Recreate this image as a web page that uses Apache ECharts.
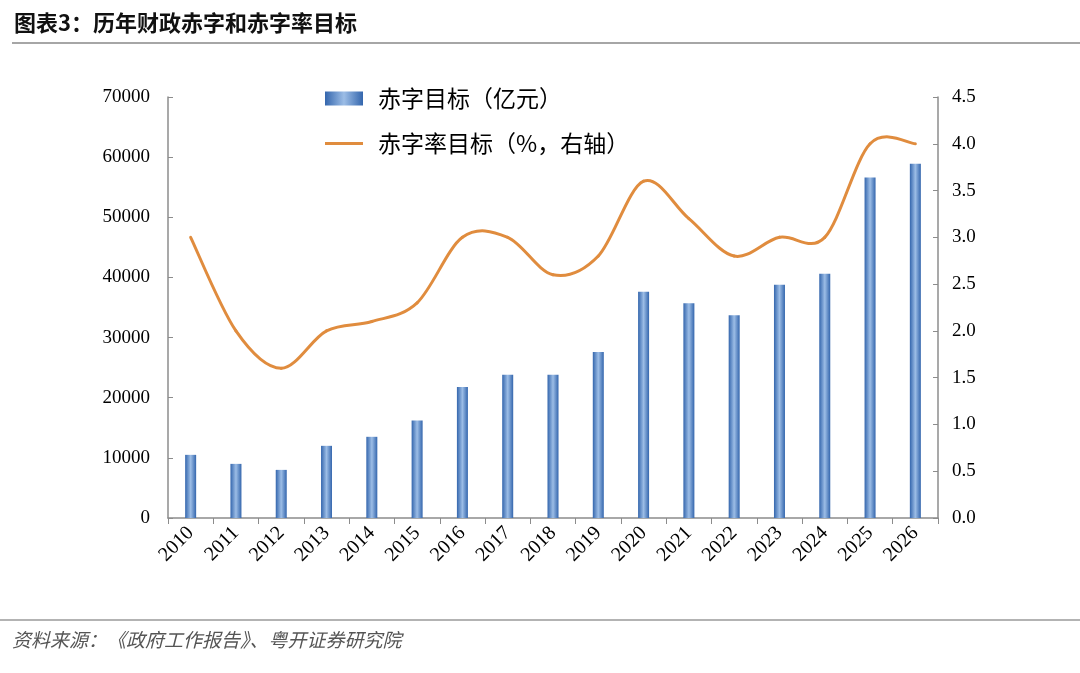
<!DOCTYPE html>
<html>
<head>
<meta charset="utf-8">
<script src="https://cdn.jsdelivr.net/npm/echarts@6/dist/echarts.min.js"></script>
<style>
  html, body { margin: 0; padding: 0; background: #fff; }
  #chart { width: 1080px; height: 673px; }
</style>
</head>
<body>
<div id="chart"></div>
<script>
var years = ["2010", "2011", "2012", "2013", "2014", "2015", "2016", "2017", "2018",
  "2019", "2020", "2021", "2022", "2023", "2024", "2025", "2026"];
// 赤字目标（亿元）
var deficit = [10500, 9000, 8000, 12000, 13500, 16200, 21800, 23800, 23800,
  27600, 37600, 35700, 33700, 38800, 40600, 56600, 58900];
// 赤字率目标（%）
var deficitRate = [3.0, 2.0, 1.6, 2.0, 2.1, 2.3, 3.0, 3.0, 2.6,
  2.8, 3.6, 3.2, 2.8, 3.0, 3.0, 4.0, 4.0];

var serif = "'Liberation Serif', 'Noto Sans CJK SC', serif";
var cjk = "'Noto Sans CJK SC', sans-serif";
var axisGray = "#8c8c8c";
var lineColor = "#e08c3e";

var myChart = echarts.init(document.getElementById("chart"));

var barColor = new echarts.graphic.LinearGradient(0, 0, 1, 0, [
  { offset: 0, color: "#3466ad" },
  { offset: 0.5, color: "#9cbde6" },
  { offset: 1, color: "#3466ad" }
]);

// Excel 风格的平滑曲线：每段用相邻点算贝塞尔控制点
function renderSmooth(params, api) {
  var i = params.dataIndex;
  var n = deficitRate.length;
  if (i >= n - 1) return;
  function pt(k) {
    k = Math.max(0, Math.min(n - 1, k));
    return api.coord([k, deficitRate[k]]);
  }
  var p0 = pt(i - 1), p1 = pt(i), p2 = pt(i + 1), p3 = pt(i + 2);
  return {
    type: "bezierCurve",
    shape: {
      x1: p1[0], y1: p1[1],
      x2: p2[0], y2: p2[1],
      cpx1: p1[0] + (p2[0] - p0[0]) / 6,
      cpy1: p1[1] + (p2[1] - p0[1]) / 6,
      cpx2: p2[0] - (p3[0] - p1[0]) / 6,
      cpy2: p2[1] - (p3[1] - p1[1]) / 6
    },
    style: { stroke: lineColor, lineWidth: 3, fill: null, lineCap: "round" }
  };
}

var option = {
  animation: false,
  backgroundColor: "#fff",
  grid: { left: 168, right: 142, top: 97, bottom: 155 },
  legend: {
    orient: "vertical",
    left: 320,
    top: 82,
    itemGap: 22,
    itemWidth: 38,
    itemHeight: 14,
    textStyle: { fontFamily: cjk, fontSize: 23, color: "#000", padding: [0, 0, 0, 10] },
    data: [
      { name: "赤字目标（亿元）", icon: "rect" },
      { name: "赤字率目标（%，右轴）", icon: "path://M0 0H60V5H0Z" }
    ]
  },
  xAxis: {
    type: "category",
    data: years,
    axisLine: { lineStyle: { color: axisGray, width: 1.5 } },
    axisTick: { show: true, length: 6, lineStyle: { color: axisGray } },
    axisLabel: {
      rotate: 45,
      margin: 12,
      fontFamily: serif,
      fontSize: 20,
      color: "#000"
    }
  },
  yAxis: [
    {
      type: "value",
      min: 0,
      max: 70000,
      interval: 10000,
      splitLine: { show: false },
      axisLine: { show: true, lineStyle: { color: axisGray, width: 1.5 } },
      axisTick: { show: true, inside: true, length: 5, lineStyle: { color: axisGray } },
      axisLabel: {
        margin: 18,
        fontFamily: serif,
        fontSize: 19,
        color: "#000",
        formatter: function (v) { return String(v); }
      }
    },
    {
      type: "value",
      min: 0,
      max: 4.5,
      interval: 0.5,
      splitLine: { show: false },
      axisLine: { show: true, lineStyle: { color: axisGray, width: 1.5 } },
      axisTick: { show: true, inside: true, length: 5, lineStyle: { color: axisGray } },
      axisLabel: {
        margin: 14,
        fontFamily: serif,
        fontSize: 19,
        color: "#000",
        formatter: function (v) { return v.toFixed(1); }
      }
    }
  ],
  series: [
    {
      name: "赤字目标（亿元）",
      type: "bar",
      data: deficit,
      barWidth: 11,
      itemStyle: { color: barColor }
    },
    {
      name: "赤字率目标（%，右轴）",
      type: "custom",
      yAxisIndex: 1,
      data: deficitRate.map(function (v, i) { return [i, v]; }),
      encode: { x: 0, y: 1 },
      renderItem: renderSmooth,
      itemStyle: { color: lineColor }
    }
  ],
  graphic: [
    {
      type: "text",
      left: 14,
      top: 12,
      style: {
        text: "图表3：历年财政赤字和赤字率目标",
        font: "bold 22px 'Noto Sans CJK SC', sans-serif",
        fill: "#111"
      }
    },
    {
      type: "line",
      shape: { x1: 12, y1: 43, x2: 1080, y2: 43 },
      style: { stroke: "#a6a6a6", lineWidth: 2 }
    },
    {
      type: "line",
      shape: { x1: 0, y1: 620, x2: 1080, y2: 620 },
      style: { stroke: "#b3b3b3", lineWidth: 2 }
    },
    {
      type: "text",
      left: 12,
      top: 630,
      style: {
        text: "资料来源：《政府工作报告》、粤开证券研究院",
        font: "italic 19px 'Noto Sans CJK SC', sans-serif",
        fill: "#555"
      }
    }
  ]
};

myChart.setOption(option);
</script>
</body>
</html>
